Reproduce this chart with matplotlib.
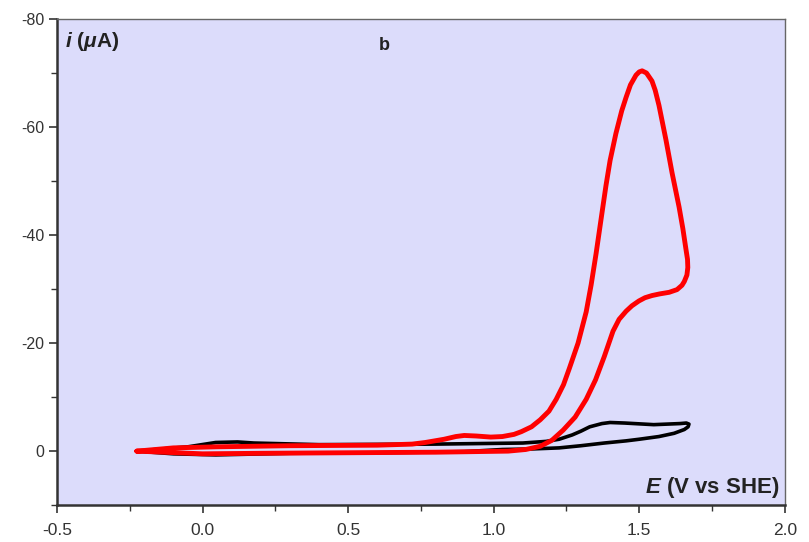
import numpy as np
import matplotlib
matplotlib.use("Agg")
import matplotlib.pyplot as plt
from matplotlib.ticker import MultipleLocator, FormatStrFormatter

plt.rcParams['font.family'] = ['Liberation Sans', 'DejaVu Sans']
plt.rcParams['axes.unicode_minus'] = False
plt.rcParams['mathtext.fontset'] = 'custom'
plt.rcParams['mathtext.rm'] = 'Liberation Sans:bold'
plt.rcParams['mathtext.it'] = 'Liberation Sans:italic:bold'
plt.rcParams['mathtext.bf'] = 'Liberation Sans:bold'

# CV loop with substrate (red), E in V vs SHE, i in uA
E_red = [-0.226, -0.10, 0.05, 0.30, 0.60, 0.72, 0.765, 0.83, 0.87, 0.899, 0.94, 0.99,
         1.030, 1.07, 1.095, 1.13, 1.160, 1.19, 1.215, 1.24, 1.26, 1.29, 1.318, 1.335,
         1.352, 1.37, 1.386, 1.40, 1.420, 1.44, 1.455, 1.47, 1.489, 1.50, 1.510, 1.525,
         1.544, 1.555, 1.568, 1.58, 1.592, 1.613, 1.637, 1.650, 1.660, 1.666, 1.667,
         1.664, 1.655, 1.647, 1.63, 1.603, 1.57, 1.544, 1.52, 1.499, 1.475, 1.455, 1.431,
         1.41, 1.38, 1.35, 1.318, 1.28, 1.239, 1.20, 1.160, 1.11, 1.05,
         0.80, 0.50, 0.20, 0.0, -0.226]
i_red = [0.0, -0.6, -0.8, -1.0, -1.1, -1.3, -1.6, -2.2, -2.7, -2.9, -2.8, -2.6,
         -2.7, -3.1, -3.6, -4.5, -5.8, -7.4, -9.6, -12.3, -15.3, -20.0, -25.8, -30.8,
         -36.6, -43.3, -49.2, -53.8, -58.8, -63.0, -65.5, -67.8, -69.6, -70.2, -70.4, -70.0,
         -68.5, -66.8, -64.0, -60.8, -57.6, -51.5, -45.2, -41.2, -37.6, -35.5, -34.0,
         -32.6, -31.4, -30.7, -29.9, -29.4, -29.1, -28.8, -28.4, -27.8, -26.9, -25.9, -24.4,
         -22.2, -17.5, -13.2, -9.6, -6.3, -3.9, -2.0, -0.9, -0.3, 0.0,
         0.2, 0.3, 0.4, 0.5, 0.0]

# blank (black)
E_blk = [-0.226, -0.05, 0.045, 0.12, 0.176, 0.40, 0.80, 1.10, 1.18, 1.225, 1.27, 1.30,
         1.33, 1.372, 1.40, 1.45, 1.55, 1.64, 1.662, 1.671, 1.668,
         1.655, 1.62, 1.568, 1.50, 1.455, 1.38, 1.30, 1.225, 1.13, 1.03, 0.899, 0.60,
         0.30, 0.045, -0.10, -0.226]
i_blk = [0.0, -0.8, -1.6, -1.7, -1.5, -1.2, -1.3, -1.5, -1.8, -2.2, -3.0, -3.7,
         -4.5, -5.1, -5.3, -5.2, -4.9, -5.1, -5.2, -5.0, -4.5,
         -4.0, -3.3, -2.7, -2.2, -1.9, -1.5, -1.0, -0.6, -0.4, -0.3, 0.1, 0.3,
         0.4, 0.7, 0.5, 0.0]

fig = plt.figure(figsize=(8.09, 5.42), dpi=100)
ax = fig.add_axes([0.0705, 0.068, 0.8995, 0.897])
ax.set_facecolor('#dcdcfb')

ax.plot(E_blk, i_blk, color='black', lw=2.6, solid_joinstyle='round', solid_capstyle='round')
ax.plot(E_red, i_red, color='#ff0000', lw=3.5, solid_joinstyle='round', solid_capstyle='round')

ax.set_xlim(-0.5, 2.0)
ax.set_ylim(10, -80)
ax.xaxis.set_major_locator(MultipleLocator(0.5))
ax.xaxis.set_minor_locator(MultipleLocator(0.25))
ax.yaxis.set_major_locator(MultipleLocator(20))
ax.yaxis.set_minor_locator(MultipleLocator(10))
ax.xaxis.set_major_formatter(FormatStrFormatter('%.1f'))

for s in ax.spines.values():
    s.set_color('#666666')
    s.set_linewidth(1.0)
ax.spines['left'].set_color('#333333')
ax.spines['bottom'].set_color('#333333')
ax.spines['left'].set_linewidth(1.8)
ax.spines['bottom'].set_linewidth(1.8)

ax.tick_params(axis='both', which='major', direction='out', length=6, width=1.2,
               colors='#333333', top=False, right=False)
ax.tick_params(axis='both', which='minor', direction='out', length=4, width=1.0,
               colors='#333333', top=False, right=False)
ax.tick_params(axis='y', which='major', labelsize=11.5, pad=3)
ax.tick_params(axis='x', which='major', labelsize=12.5, pad=7)

ax.text(0.011, 0.953, r'$i$ ($\mu$A)', transform=ax.transAxes, fontsize=15,
        fontweight='bold', color='#222222', va='center', ha='left')
ax.text(0.45, 0.946, 'b', transform=ax.transAxes, fontsize=13,
        fontweight='bold', color='#222222', va='center', ha='center')
ax.text(0.993, 0.037, r'$E$ (V vs SHE)', transform=ax.transAxes, fontsize=16,
        fontweight='bold', color='#222222', va='center', ha='right')

fig.savefig('out.png', dpi=100)
